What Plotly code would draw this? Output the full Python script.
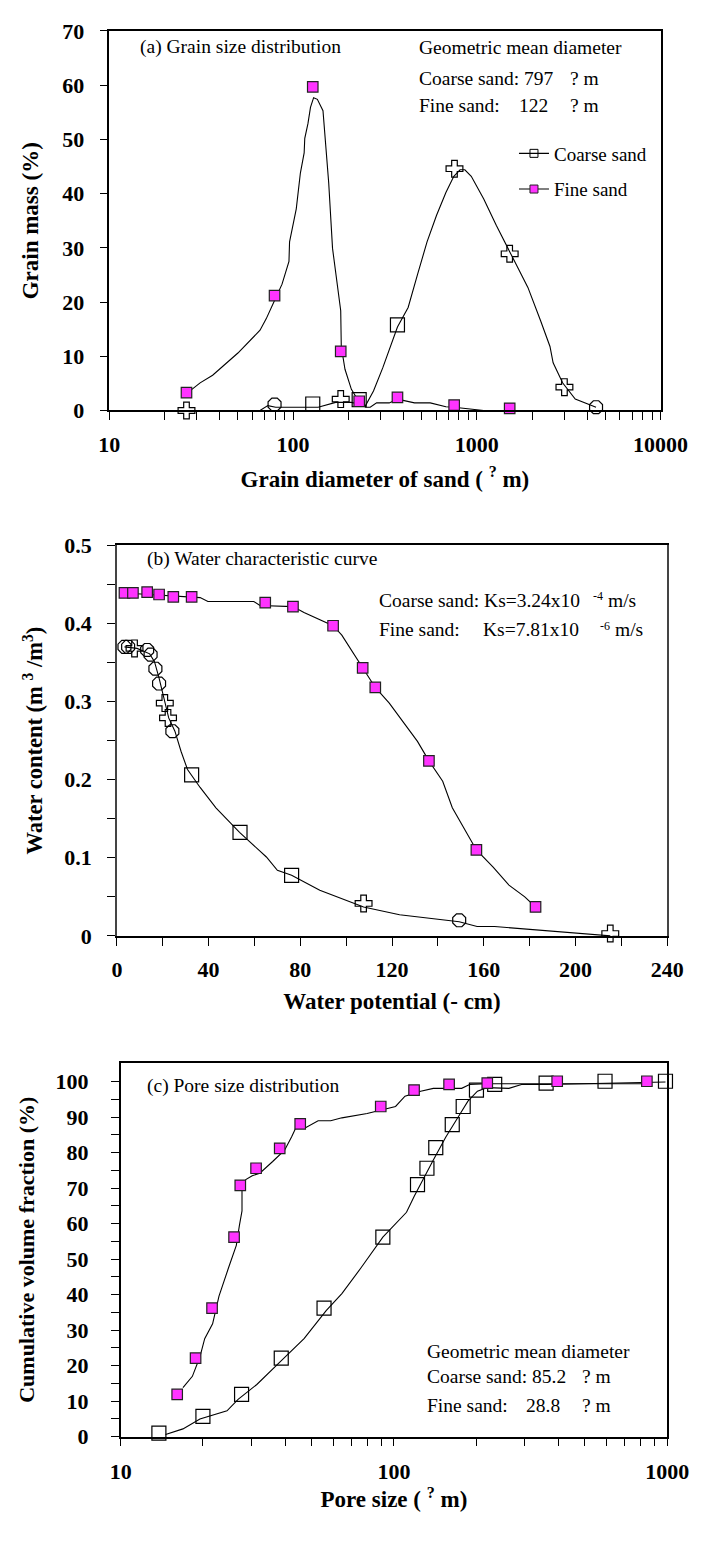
import plotly.graph_objects as go

W, H = 715, 1553
SERIF = "Liberation Serif"

# ---------------- Panel (a): grain size distribution ----------------
a_coarse_d = [26.3, 79.3, 128, 181.7, 229, 370, 756, 1510, 2999, 4457]
a_coarse_m = [0.0, 1.1, 1.2, 2.1, 2.0, 15.8, 44.6, 28.9, 4.3, 0.6]
a_fine_d = [26.3, 79.3, 128, 181.7, 229, 370, 753, 1510]
a_fine_m = [3.3, 21.2, 59.7, 10.9, 1.7, 2.4, 1.0, 0.4]

a_coarse_curve_d = [26.3, 36.5, 66.1, 72.9, 80.5, 137, 170.5, 207.7, 229, 248, 274, 308,
                    370, 423, 476, 536, 604, 679, 750, 811, 861, 933, 1091, 1278, 1510,
                    1897, 2222, 2502, 2603, 2930, 3434, 4020, 4457]
a_coarse_curve_m = [0.0, 0.0, 0.0, 0.9, 0.6, 0.6, 1.5, 1.5, 1.2, 0.9, 3.6, 7.9,
                    15.4, 19.0, 25.1, 31.1, 36.0, 40.2, 43.2, 44.4, 44.4, 43.2, 39.0, 34.1, 29.3,
                    22.7, 16.6, 11.8, 8.8, 5.1, 2.1, 1.2, 0.6]
a_fine_curve_d = [26.3, 31.2, 36.5, 50.1, 66.1, 71.4, 79.3, 87.1, 95.0, 95.7, 104.1, 109.6,
                  114.9, 115.8, 120.5, 124.4, 129.4, 135.6, 145.5, 151.4, 156.3, 164.0, 170.5,
                  181.7, 183, 191.7, 207.7, 229.3, 248, 263, 285, 334, 370, 406, 458, 558,
                  679, 753, 896, 1091]
a_fine_curve_m = [3.1, 5.1, 6.5, 10.6, 14.8, 16.9, 20.3, 23.3, 27.5, 31.1, 37.2, 43.8,
                  47.5, 50.2, 52.9, 55.9, 57.7, 57.4, 55.3, 48.7, 42.0, 29.9, 25.1,
                  18.4, 11.8, 7.6, 3.9, 1.5, 0.6, 0.6, 1.4, 1.4, 2.1, 1.8, 1.4, 1.4,
                  0.7, 0.6, 0.3, 0.0]

# ---------------- Panel (b): water characteristic curve ----------------
b_coarse_h = [3.3, 4.9, 7.7, 13.2, 14.7, 16.8, 18.4, 20.9, 22.3, 24.2, 32.6, 53.7, 76.2,
              107.6, 149.3, 215.2]
b_coarse_w = [0.370, 0.370, 0.368, 0.366, 0.360, 0.342, 0.323, 0.298, 0.279, 0.262, 0.206,
              0.1325, 0.0775, 0.0415, 0.020, 0.003]
b_fine_h = [3.3, 7.0, 13.2, 18.4, 24.6, 32.6, 64.7, 76.8, 94.3, 107.2, 112.7, 136.1, 156.8, 182.6]
b_fine_w = [0.439, 0.439, 0.440, 0.437, 0.434, 0.434, 0.4265, 0.4215, 0.397, 0.343, 0.318,
            0.224, 0.110, 0.037]

b_coarse_curve_h = [3.3, 8.8, 14.3, 16.4, 18.4, 20.5, 22.6, 25.3, 28.0, 30.8, 36.3, 43.2,
                    53.5, 65.2, 70.0, 76.2, 88.5, 107.6, 123.3, 149.3, 157.1, 164.7, 215.2]
b_coarse_curve_w = [0.370, 0.368, 0.361, 0.351, 0.330, 0.304, 0.279, 0.262, 0.236, 0.213,
                    0.190, 0.164, 0.1325, 0.101, 0.084, 0.0775, 0.0585, 0.037, 0.027, 0.018,
                    0.012, 0.012, 0.0]
b_fine_curve_h = [3.3, 36.3, 39.7, 59.7, 62.4, 76.8, 81.6, 94.3, 98.1, 107.2, 112.7, 118.8,
                  125.6, 131.1, 136.1, 142.1, 146.3, 151.8, 156.8, 164.1, 171.0, 177.9, 182.6]
b_fine_curve_w = [0.439, 0.433, 0.428, 0.428, 0.423, 0.4215, 0.414, 0.397, 0.385, 0.343,
                  0.318, 0.298, 0.270, 0.249, 0.224, 0.198, 0.164, 0.135, 0.110, 0.088,
                  0.065, 0.050, 0.037]

# ---------------- Panel (c): pore size distribution ----------------
c_coarse_p = [13.8, 20.0, 27.7, 38.7, 55.5, 91.1, 122.0, 132.1, 142.3, 163.5, 179.3, 200.5,
              233.8, 360.6, 592.5, 986]
c_coarse_v = [1.0, 5.7, 11.9, 22.1, 36.2, 56.2, 71.0, 75.6, 81.4, 87.9, 93.0, 97.6, 99.2,
              99.6, 100.1, 100.1]
c_fine_p = [16.1, 18.8, 21.6, 26.0, 27.4, 31.3, 38.2, 45.4, 89.5, 118.5, 159.2, 219.6, 395.9, 843]
c_fine_v = [11.9, 22.1, 36.2, 56.2, 70.8, 75.6, 81.2, 88.1, 93.0, 97.6, 99.2, 99.6, 100.1, 100.1]

c_coarse_curve_p = [14.6, 16.9, 19.5, 24.5, 26.9, 31.5, 37.9, 46.9, 56.5, 64.5, 75.7, 91.1,
                    111.2, 118.8, 139.4, 154.9, 174.6, 186.6, 202.2, 218.8, 263.6, 293.1,
                    362.6, 986]
c_coarse_curve_v = [0.6, 2.2, 5.0, 7.3, 10.5, 14.7, 20.7, 27.6, 35.5, 40.3, 47.5, 56.2,
                    63.2, 67.8, 77.9, 84.4, 90.9, 94.5, 97.3, 98.3, 98.1, 99.2, 99.2, 99.9]
c_fine_curve_p = [16.9, 18.3, 19.5, 20.3, 21.7, 22.9, 24.8, 26.5, 27.2, 27.8, 27.8, 28.7,
                  30.3, 32.3, 36.0, 39.8, 42.2, 43.9, 47.5, 52.8, 58.7, 64.5, 79.8, 89.9,
                  101.4, 109.8, 125.3, 139.4, 177.0, 189.2, 218.8, 843]
c_fine_curve_v = [13.8, 17.0, 22.5, 27.6, 31.8, 39.6, 47.5, 53.9, 59.5, 63.6, 69.6, 72.4,
                  73.5, 74.2, 77.5, 80.7, 84.4, 87.2, 87.0, 89.0, 89.0, 89.8, 91.0, 92.0,
                  93.0, 95.9, 97.3, 98.1, 98.1, 99.2, 99.4, 99.4]

series_names = ["Coarse sand", "Fine sand"]

# ---------------- styles ----------------
MAGENTA = "#FF33FF"
a_coarse_sym = ["cross-open", "octagon-open", "square-open", "cross-open", "square-open",
                "square-open", "cross-open", "cross-open", "cross-open", "octagon-open"]
b_coarse_sym = ["octagon-open", "octagon-open", "cross-open", "octagon-open", "octagon-open",
                "octagon-open", "octagon-open", "cross-open", "cross-open", "octagon-open",
                "square-open", "square-open", "square-open", "cross-open", "octagon-open",
                "cross-open"]


def px(x):
    return x / W


def py(y):
    return 1 - y / H


fig = go.Figure()


def add_panel(xa, ya, cx, cy, fx, fy, ccx, ccy, fcx, fcy, csym):
    fig.add_trace(go.Scatter(x=ccx, y=ccy, mode="lines", line=dict(color="black", width=1.1),
                             xaxis=xa, yaxis=ya, showlegend=False, hoverinfo="skip"))
    fig.add_trace(go.Scatter(x=fcx, y=fcy, mode="lines", line=dict(color="black", width=1.1),
                             xaxis=xa, yaxis=ya, showlegend=False, hoverinfo="skip"))
    fig.add_trace(go.Scatter(x=cx, y=cy, mode="markers", cliponaxis=False,
                             marker=dict(symbol=csym, size=14, color="black",
                                         line=dict(color="black", width=1.2)),
                             xaxis=xa, yaxis=ya, showlegend=False))
    fig.add_trace(go.Scatter(x=fx, y=fy, mode="markers", cliponaxis=False,
                             marker=dict(symbol="square", size=10.5, color=MAGENTA,
                                         line=dict(color="#222", width=1.2)),
                             xaxis=xa, yaxis=ya, showlegend=False))


add_panel("x", "y", a_coarse_d, a_coarse_m, a_fine_d, a_fine_m,
          a_coarse_curve_d, a_coarse_curve_m, a_fine_curve_d, a_fine_curve_m, a_coarse_sym)
add_panel("x2", "y2", b_coarse_h, b_coarse_w, b_fine_h, b_fine_w,
          b_coarse_curve_h, b_coarse_curve_w, b_fine_curve_h, b_fine_curve_w, b_coarse_sym)
add_panel("x3", "y3", c_coarse_p, c_coarse_v, c_fine_p, c_fine_v,
          c_coarse_curve_p, c_coarse_curve_v, c_fine_curve_p, c_fine_curve_v, "square-open")

# legend entries (panel a)
fig.add_trace(go.Scatter(x=[None], y=[None], mode="lines+markers", name=series_names[0],
                         line=dict(color="black", width=1.1), legendgroup="c",
                         marker=dict(symbol="square-open", size=8, color="black"),
                         xaxis="x", yaxis="y"))
fig.add_trace(go.Scatter(x=[None], y=[None], mode="lines+markers", name=series_names[1],
                         line=dict(color="black", width=1.1), legendgroup="f",
                         marker=dict(symbol="square", size=8, color=MAGENTA,
                                     line=dict(color="#222", width=1)),
                         xaxis="x", yaxis="y"))

TICKF = dict(family=SERIF, size=22, color="black", weight="bold")


def TF(size):
    return dict(family=SERIF, size=size, color="black", weight="bold")


def axis(**kw):
    base = dict(showline=True, linecolor="black", linewidth=1.5, mirror=True,
                ticks="outside", ticklen=8, tickwidth=1.2, tickcolor="black",
                showgrid=False, zeroline=False, tickfont=TICKF)
    base.update(kw)
    return base


log_minor_a = [20, 30, 40, 50, 60, 70, 80, 90, 200, 300, 400, 500, 600, 700, 800, 900,
               2000, 3000, 4000, 5000, 6000, 7000, 8000, 9000]
log_minor_c = [20, 30, 40, 50, 60, 70, 80, 90, 200, 300, 400, 500, 600, 700, 800, 900]

fig.update_layout(
    width=W, height=H, margin=dict(l=0, r=0, t=0, b=0),
    paper_bgcolor="white", plot_bgcolor="white",
    xaxis=axis(type="log", range=[1, 4], domain=[px(104), px(687)], anchor="y",
               tickmode="array", tickvals=[10, 100, 1000, 10000],
               ticktext=["10", "100", "1000", "10000"], ticklabelstandoff=5,
               minor=dict(tickvals=log_minor_a, ticks="outside", ticklen=8, tickcolor="black"),
               title=dict(text="Grain diameter of sand ( <sup>?</sup> m)", standoff=15,
                          font=TF(23))),
    yaxis=axis(range=[0, 70], dtick=10, domain=[py(405), py(19.3)], anchor="x",
               ticklabelstandoff=11,
               title=dict(text="Grain mass (%)", standoff=17, font=TF(23))),
    xaxis2=axis(range=[0, 240], dtick=40, domain=[px(112), px(694)], anchor="y2",
                ticklabelstandoff=5,
                minor=dict(dtick=20, ticks="outside", ticklen=8, tickcolor="black"),
                title=dict(text="Water potential (- cm)", standoff=12, font=TF(23))),
    yaxis2=axis(range=[0, 0.5], dtick=0.1, domain=[py(939), py(542)], anchor="x2",
                ticklabelstandoff=11, linecolor="#444",
                minor=dict(dtick=0.05, ticks="outside", ticklen=8, tickcolor="black"),
                title=dict(text="Water content (m <sup>3</sup> /m<sup>3</sup>)", standoff=15,
                           font=TF(22.5))),
    xaxis3=axis(type="log", range=[1, 3], domain=[px(116), px(694)], anchor="y3",
                tickmode="array", tickvals=[10, 100, 1000], ticktext=["10", "100", "1000"],
                ticklabelstandoff=6,
                minor=dict(tickvals=log_minor_c, ticks="outside", ticklen=8, tickcolor="black"),
                title=dict(text="Pore size ( <sup>?</sup> m)", standoff=7, font=TF(23))),
    yaxis3=axis(range=[0, 105.3], tickmode="array", tickvals=list(range(0, 101, 10)),
                domain=[py(1448), py(1068)], anchor="x3", ticklabelstandoff=18,
                minor=dict(tickvals=list(range(5, 101, 10)), ticks="outside", ticklen=8,
                           tickcolor="black"),
                title=dict(text="Cumulative volume fraction (%)", standoff=15, font=TF(22))),
    legend=dict(x=px(532), y=py(124.5), xanchor="left", yanchor="top",
                bgcolor="rgba(0,0,0,0)", tracegroupgap=8,
                font=dict(family=SERIF, size=19, color="black")),
)


def note(x, y, text, size=19.5):
    fig.add_annotation(x=px(x), y=py(y), xref="paper", yref="paper", text=text,
                       showarrow=False, xanchor="left", yanchor="middle",
                       font=dict(family=SERIF, size=size, color="black"))


# panel (a) notes
note(134, 36, "(a) Grain size distribution")
note(429, 36, "Geometric mean diameter")
note(429, 68, "Coarse sand: 797")
note(589, 68, "? m")
note(429, 95, "Fine sand:")
note(535, 95, "122")
note(589, 95, "? m")

# panel (b) notes
note(142, 556, "(b) Water characteristic curve")
note(387, 598, "Coarse sand: Ks=3.24x10")
note(613, 594, "-4", size=12)
note(629, 598, "m/s")
note(387, 628, "Fine sand:")
note(497, 628, "Ks=7.81x10")
note(621, 624, "-6", size=12)
note(637, 628, "m/s")

# panel (c) notes
note(142, 1092, "(c) Pore size distribution")
note(438, 1361, "Geometric mean diameter")
note(438, 1387, "Coarse sand: 85.2")
note(602, 1387, "? m")
note(438, 1416, "Fine sand:")
note(543, 1416, "28.8")
note(602, 1416, "? m")

fig.write_html("out.html")
